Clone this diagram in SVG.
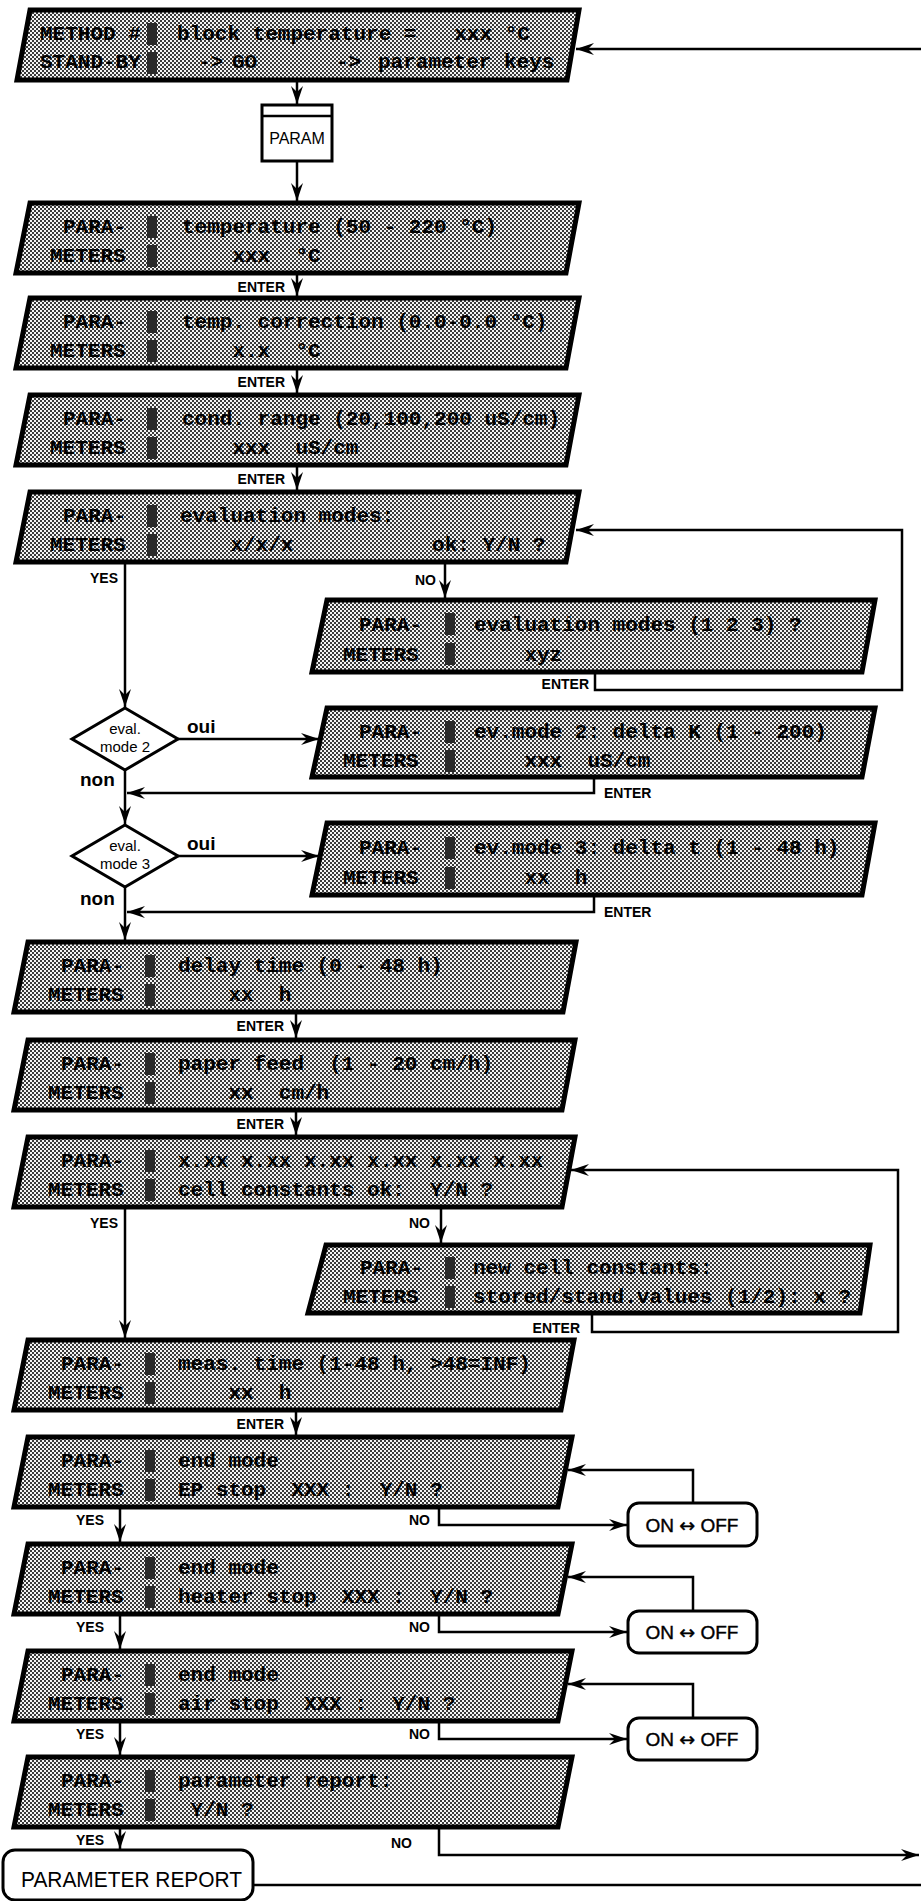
<svg xmlns="http://www.w3.org/2000/svg" width="921" height="1901" viewBox="0 0 921 1901">
<style>
.box{fill:url(#dith);stroke:#000;stroke-width:5;stroke-linejoin:miter}
.blk{fill:#2a2a2a}
.m{font-family:"Liberation Mono","DejaVu Sans Mono",monospace;font-weight:bold;font-size:21px;fill:#000}
.lbl{font-family:"Liberation Sans","Arial",sans-serif;font-weight:bold;font-size:14px;fill:#000}
.big{font-family:"Liberation Sans","Arial",sans-serif;font-weight:bold;font-size:19px;fill:#000}
.dt{font-family:"Liberation Sans","Arial",sans-serif;font-size:15px;fill:#000;text-anchor:middle}
.sans{font-family:"Liberation Sans","Arial",sans-serif;fill:#000}
.oo{font-family:"Liberation Sans","Arial",sans-serif;font-size:19px;fill:#000;text-anchor:middle;stroke:#000;stroke-width:0.4}
.arr{font-family:"DejaVu Sans",sans-serif;font-size:19px}
.c{fill:none;stroke:#000;stroke-width:2.5;marker-end:url(#ah)}
.cn{fill:none;stroke:#000;stroke-width:2.5}
.wb{fill:#fff;stroke:#000;stroke-width:3}
</style>
<defs>
<pattern id="dith" width="4" height="4" patternUnits="userSpaceOnUse">
<rect width="4" height="4" fill="#f4f4f4"/>
<rect width="2" height="2" fill="#3a3a3a"/>
<rect x="2" y="2" width="2" height="2" fill="#3a3a3a"/>
</pattern>
<marker id="ah" markerUnits="userSpaceOnUse" markerWidth="20" markerHeight="14" viewBox="-19 -7 20 14" refX="0" refY="0" orient="auto">
<path d="M0,0 L-18,-6 L-12,0 L-18,6 Z" fill="#000"/>
</marker>
</defs>
<rect width="921" height="1901" fill="#fff"/>

<g id="connectors">
<path class="c" d="M297,82 V104"/>
<path class="c" d="M297,162 V201"/>
<path class="c" d="M297,275 V296"/>
<path class="c" d="M297,370 V393"/>
<path class="c" d="M297,467 V490"/>
<path class="c" d="M125,564 V707"/>
<path class="c" d="M445,564 V598"/>
<path class="c" d="M595,674 V690 H902 V530 H576"/>
<path class="c" d="M178,739 H319"/>
<path class="c" d="M125,770 V824"/>
<path class="c" d="M594,779 V793 H127"/>
<path class="c" d="M178,856 H319"/>
<path class="c" d="M125,887 V940"/>
<path class="c" d="M594,897 V912 H127"/>
<path class="c" d="M296,1014 V1038"/>
<path class="c" d="M296,1112 V1135"/>
<path class="c" d="M125,1209 V1338"/>
<path class="c" d="M441,1209 V1243"/>
<path class="c" d="M592,1315 V1332 H898 V1170 H571"/>
<path class="c" d="M296,1412 V1435"/>
<path class="c" d="M120,1509 V1542"/>
<path class="c" d="M120,1616 V1649"/>
<path class="c" d="M120,1723 V1755"/>
<path class="c" d="M120,1829 V1849"/>
<path class="c" d="M439,1509 V1525 H627"/>
<path class="c" d="M439,1616 V1632 H627"/>
<path class="c" d="M439,1723 V1739 H627"/>
<path class="c" d="M693,1503 V1470 H568"/>
<path class="c" d="M693,1611 V1577 H568"/>
<path class="c" d="M693,1718 V1684 H568"/>
<path class="c" d="M439,1829 V1855 H919"/>
<path class="cn" d="M253,1885 H921"/>
<path class="c" d="M921,49 H576"/>
</g>

<g id="standby">
<polygon class="box" points="30,10 579,10 567,80 17,80"/>
<rect class="blk" x="147" y="23" width="10" height="22"/>
<rect class="blk" x="147" y="52" width="10" height="22"/>
<text class="m" x="40" y="40">METHOD #</text>
<text class="m" x="40" y="68">STAND-BY</text>
<text class="m" x="177" y="40" xml:space="preserve">block temperature =   xxx °C</text>
<text class="m" x="198" y="68">-&gt;</text>
<text class="m" x="232" y="68">GO</text>
<text class="m" x="336" y="68">-&gt;</text>
<text class="m" x="378" y="68">parameter keys</text>
</g>

<g id="param">
<rect class="wb" x="262" y="105" width="70" height="56" stroke-width="2.5"/>
<line x1="262" y1="116" x2="332" y2="116" stroke="#000" stroke-width="2.5"/>
<text class="sans" x="297" y="144" font-size="16" text-anchor="middle">PARAM</text>
</g>

<g id="temperature">
<polygon class="box" points="30,203 579,203 566,273 16,273"/>
<rect class="blk" x="147" y="216" width="10" height="22"/>
<rect class="blk" x="147" y="245" width="10" height="22"/>
<text class="m" x="63" y="233">PARA-</text>
<text class="m" x="50" y="262">METERS</text>
<text class="m" x="182" y="233">temperature (50 - 220 °C)</text>
<text class="m" x="182" y="262" xml:space="preserve">    xxx  °C</text>
<text class="lbl" x="285" y="292" text-anchor="end">ENTER</text>
</g>

<g id="tempcorr">
<polygon class="box" points="30,298 579,298 566,368 16,368"/>
<rect class="blk" x="147" y="311" width="10" height="22"/>
<rect class="blk" x="147" y="340" width="10" height="22"/>
<text class="m" x="63" y="328">PARA-</text>
<text class="m" x="50" y="357">METERS</text>
<text class="m" x="182" y="328">temp. correction (0.0-0.0 °C)</text>
<text class="m" x="182" y="357" xml:space="preserve">    x.x  °C</text>
<text class="lbl" x="285" y="387" text-anchor="end">ENTER</text>
</g>

<g id="condrange">
<polygon class="box" points="30,395 579,395 566,465 16,465"/>
<rect class="blk" x="147" y="408" width="10" height="22"/>
<rect class="blk" x="147" y="437" width="10" height="22"/>
<text class="m" x="63" y="425">PARA-</text>
<text class="m" x="50" y="454">METERS</text>
<text class="m" x="182" y="425">cond. range (20,100,200 uS/cm)</text>
<text class="m" x="182" y="454" xml:space="preserve">    xxx  uS/cm</text>
<text class="lbl" x="285" y="484" text-anchor="end">ENTER</text>
</g>

<g id="evalmodes">
<polygon class="box" points="30,492 579,492 566,562 16,562"/>
<rect class="blk" x="147" y="505" width="10" height="22"/>
<rect class="blk" x="147" y="534" width="10" height="22"/>
<text class="m" x="63" y="522">PARA-</text>
<text class="m" x="50" y="551">METERS</text>
<text class="m" x="180" y="522">evaluation modes:</text>
<text class="m" x="180" y="551" xml:space="preserve">    x/x/x           ok: Y/N ?</text>
<text class="lbl" x="118" y="583" text-anchor="end">YES</text>
<text class="lbl" x="436" y="585" text-anchor="end">NO</text>
</g>

<g id="evalmodes123">
<polygon class="box" points="327,600 875,600 862,672 312,672"/>
<rect class="blk" x="445" y="613" width="10" height="22"/>
<rect class="blk" x="445" y="643" width="10" height="22"/>
<text class="m" x="359" y="631">PARA-</text>
<text class="m" x="343" y="661">METERS</text>
<text class="m" x="474" y="631">evaluation modes (1 2 3) ?</text>
<text class="m" x="474" y="661" xml:space="preserve">    xyz</text>
<text class="lbl" x="589" y="689" text-anchor="end">ENTER</text>
</g>

<g id="diamond2">
<polygon class="wb" points="125,708 178,739 125,770 72,739"/>
<text class="dt" x="125" y="734">eval.</text>
<text class="dt" x="125" y="752">mode 2</text>
<text class="big" x="187" y="733">oui</text>
<text class="big" x="80" y="786">non</text>
</g>

<g id="evmode2">
<polygon class="box" points="327,708 875,708 862,777 312,777"/>
<rect class="blk" x="445" y="721" width="10" height="22"/>
<rect class="blk" x="445" y="750" width="10" height="22"/>
<text class="m" x="359" y="738">PARA-</text>
<text class="m" x="343" y="767">METERS</text>
<text class="m" x="474" y="738">ev.mode 2: delta K (1 - 200)</text>
<text class="m" x="474" y="767" xml:space="preserve">    xxx  uS/cm</text>
<text class="lbl" x="604" y="798">ENTER</text>
</g>

<g id="diamond3">
<polygon class="wb" points="125,825 178,856 125,887 72,856"/>
<text class="dt" x="125" y="851">eval.</text>
<text class="dt" x="125" y="869">mode 3</text>
<text class="big" x="187" y="850">oui</text>
<text class="big" x="80" y="905">non</text>
</g>

<g id="evmode3">
<polygon class="box" points="327,823 875,823 862,895 312,895"/>
<rect class="blk" x="445" y="837" width="10" height="22"/>
<rect class="blk" x="445" y="867" width="10" height="22"/>
<text class="m" x="359" y="854">PARA-</text>
<text class="m" x="343" y="884">METERS</text>
<text class="m" x="474" y="854">ev.mode 3: delta t (1 - 48 h)</text>
<text class="m" x="474" y="884" xml:space="preserve">    xx  h</text>
<text class="lbl" x="604" y="917">ENTER</text>
</g>

<g id="delay">
<polygon class="box" points="28,942 576,942 563,1012 14,1012"/>
<rect class="blk" x="145" y="955" width="10" height="22"/>
<rect class="blk" x="145" y="984" width="10" height="22"/>
<text class="m" x="61" y="972">PARA-</text>
<text class="m" x="48" y="1001">METERS</text>
<text class="m" x="178" y="972">delay time (0 - 48 h)</text>
<text class="m" x="178" y="1001" xml:space="preserve">    xx  h</text>
<text class="lbl" x="284" y="1031" text-anchor="end">ENTER</text>
</g>

<g id="paperfeed">
<polygon class="box" points="28,1040 575,1040 562,1110 14,1110"/>
<rect class="blk" x="145" y="1053" width="10" height="22"/>
<rect class="blk" x="145" y="1082" width="10" height="22"/>
<text class="m" x="61" y="1070">PARA-</text>
<text class="m" x="48" y="1099">METERS</text>
<text class="m" x="178" y="1070" xml:space="preserve">paper feed  (1 - 20 cm/h)</text>
<text class="m" x="178" y="1099" xml:space="preserve">    xx  cm/h</text>
<text class="lbl" x="284" y="1129" text-anchor="end">ENTER</text>
</g>

<g id="cellconst">
<polygon class="box" points="28,1137 575,1137 562,1207 14,1207"/>
<rect class="blk" x="145" y="1150" width="10" height="22"/>
<rect class="blk" x="145" y="1179" width="10" height="22"/>
<text class="m" x="61" y="1167">PARA-</text>
<text class="m" x="48" y="1196">METERS</text>
<text class="m" x="178" y="1167">x.xx x.xx x.xx x.xx x.xx x.xx</text>
<text class="m" x="178" y="1196" xml:space="preserve">cell constants ok:  Y/N ?</text>
<text class="lbl" x="118" y="1228" text-anchor="end">YES</text>
<text class="lbl" x="430" y="1228" text-anchor="end">NO</text>
</g>

<g id="newcell">
<polygon class="box" points="326,1245 870,1245 860,1313 308,1313"/>
<rect class="blk" x="445" y="1257" width="10" height="22"/>
<rect class="blk" x="445" y="1286" width="10" height="22"/>
<text class="m" x="360" y="1274">PARA-</text>
<text class="m" x="343" y="1303">METERS</text>
<text class="m" x="473" y="1274">new cell constants:</text>
<text class="m" x="473" y="1303">stored/stand.values (1/2): x ?</text>
<text class="lbl" x="580" y="1333" text-anchor="end">ENTER</text>
</g>

<g id="meastime">
<polygon class="box" points="28,1340 574,1340 561,1410 14,1410"/>
<rect class="blk" x="145" y="1353" width="10" height="22"/>
<rect class="blk" x="145" y="1382" width="10" height="22"/>
<text class="m" x="61" y="1370">PARA-</text>
<text class="m" x="48" y="1399">METERS</text>
<text class="m" x="178" y="1370">meas. time (1-48 h, &gt;48=INF)</text>
<text class="m" x="178" y="1399" xml:space="preserve">    xx  h</text>
<text class="lbl" x="284" y="1429" text-anchor="end">ENTER</text>
</g>

<g id="epstop">
<polygon class="box" points="28,1437 572,1437 558,1507 14,1507"/>
<rect class="blk" x="145" y="1450" width="10" height="22"/>
<rect class="blk" x="145" y="1479" width="10" height="22"/>
<text class="m" x="61" y="1467">PARA-</text>
<text class="m" x="48" y="1496">METERS</text>
<text class="m" x="178" y="1467">end mode</text>
<text class="m" x="178" y="1496" xml:space="preserve">EP stop  XXX :  Y/N ?</text>
<text class="lbl" x="104" y="1525" text-anchor="end">YES</text>
<text class="lbl" x="430" y="1525" text-anchor="end">NO</text>
</g>

<g id="onoff1">
<rect class="wb" x="628" y="1503" width="129" height="43" rx="11"/>
<text class="oo" x="692" y="1532">ON <tspan class="arr">↔</tspan> OFF</text>
</g>

<g id="heaterstop">
<polygon class="box" points="28,1544 572,1544 558,1614 14,1614"/>
<rect class="blk" x="145" y="1557" width="10" height="22"/>
<rect class="blk" x="145" y="1586" width="10" height="22"/>
<text class="m" x="61" y="1574">PARA-</text>
<text class="m" x="48" y="1603">METERS</text>
<text class="m" x="178" y="1574">end mode</text>
<text class="m" x="178" y="1603" xml:space="preserve">heater stop  XXX :  Y/N ?</text>
<text class="lbl" x="104" y="1632" text-anchor="end">YES</text>
<text class="lbl" x="430" y="1632" text-anchor="end">NO</text>
</g>

<g id="onoff2">
<rect class="wb" x="628" y="1611" width="129" height="42" rx="11"/>
<text class="oo" x="692" y="1639">ON <tspan class="arr">↔</tspan> OFF</text>
</g>

<g id="airstop">
<polygon class="box" points="28,1651 572,1651 558,1721 14,1721"/>
<rect class="blk" x="145" y="1664" width="10" height="22"/>
<rect class="blk" x="145" y="1693" width="10" height="22"/>
<text class="m" x="61" y="1681">PARA-</text>
<text class="m" x="48" y="1710">METERS</text>
<text class="m" x="178" y="1681">end mode</text>
<text class="m" x="178" y="1710" xml:space="preserve">air stop  XXX :  Y/N ?</text>
<text class="lbl" x="104" y="1739" text-anchor="end">YES</text>
<text class="lbl" x="430" y="1739" text-anchor="end">NO</text>
</g>

<g id="onoff3">
<rect class="wb" x="628" y="1718" width="129" height="42" rx="11"/>
<text class="oo" x="692" y="1746">ON <tspan class="arr">↔</tspan> OFF</text>
</g>

<g id="paramreport">
<polygon class="box" points="28,1757 572,1757 558,1827 14,1827"/>
<rect class="blk" x="145" y="1770" width="10" height="22"/>
<rect class="blk" x="145" y="1799" width="10" height="22"/>
<text class="m" x="61" y="1787">PARA-</text>
<text class="m" x="48" y="1816">METERS</text>
<text class="m" x="178" y="1787">parameter report:</text>
<text class="m" x="178" y="1816" xml:space="preserve"> Y/N ?</text>
<text class="lbl" x="104" y="1845" text-anchor="end">YES</text>
<text class="lbl" x="412" y="1848" text-anchor="end">NO</text>
</g>

<g id="reportbox">
<rect class="wb" x="3" y="1850" width="250" height="50" rx="12"/>
<text class="sans" x="21" y="1887" font-size="22" textLength="221" lengthAdjust="spacingAndGlyphs">PARAMETER REPORT</text>
</g>
</svg>
